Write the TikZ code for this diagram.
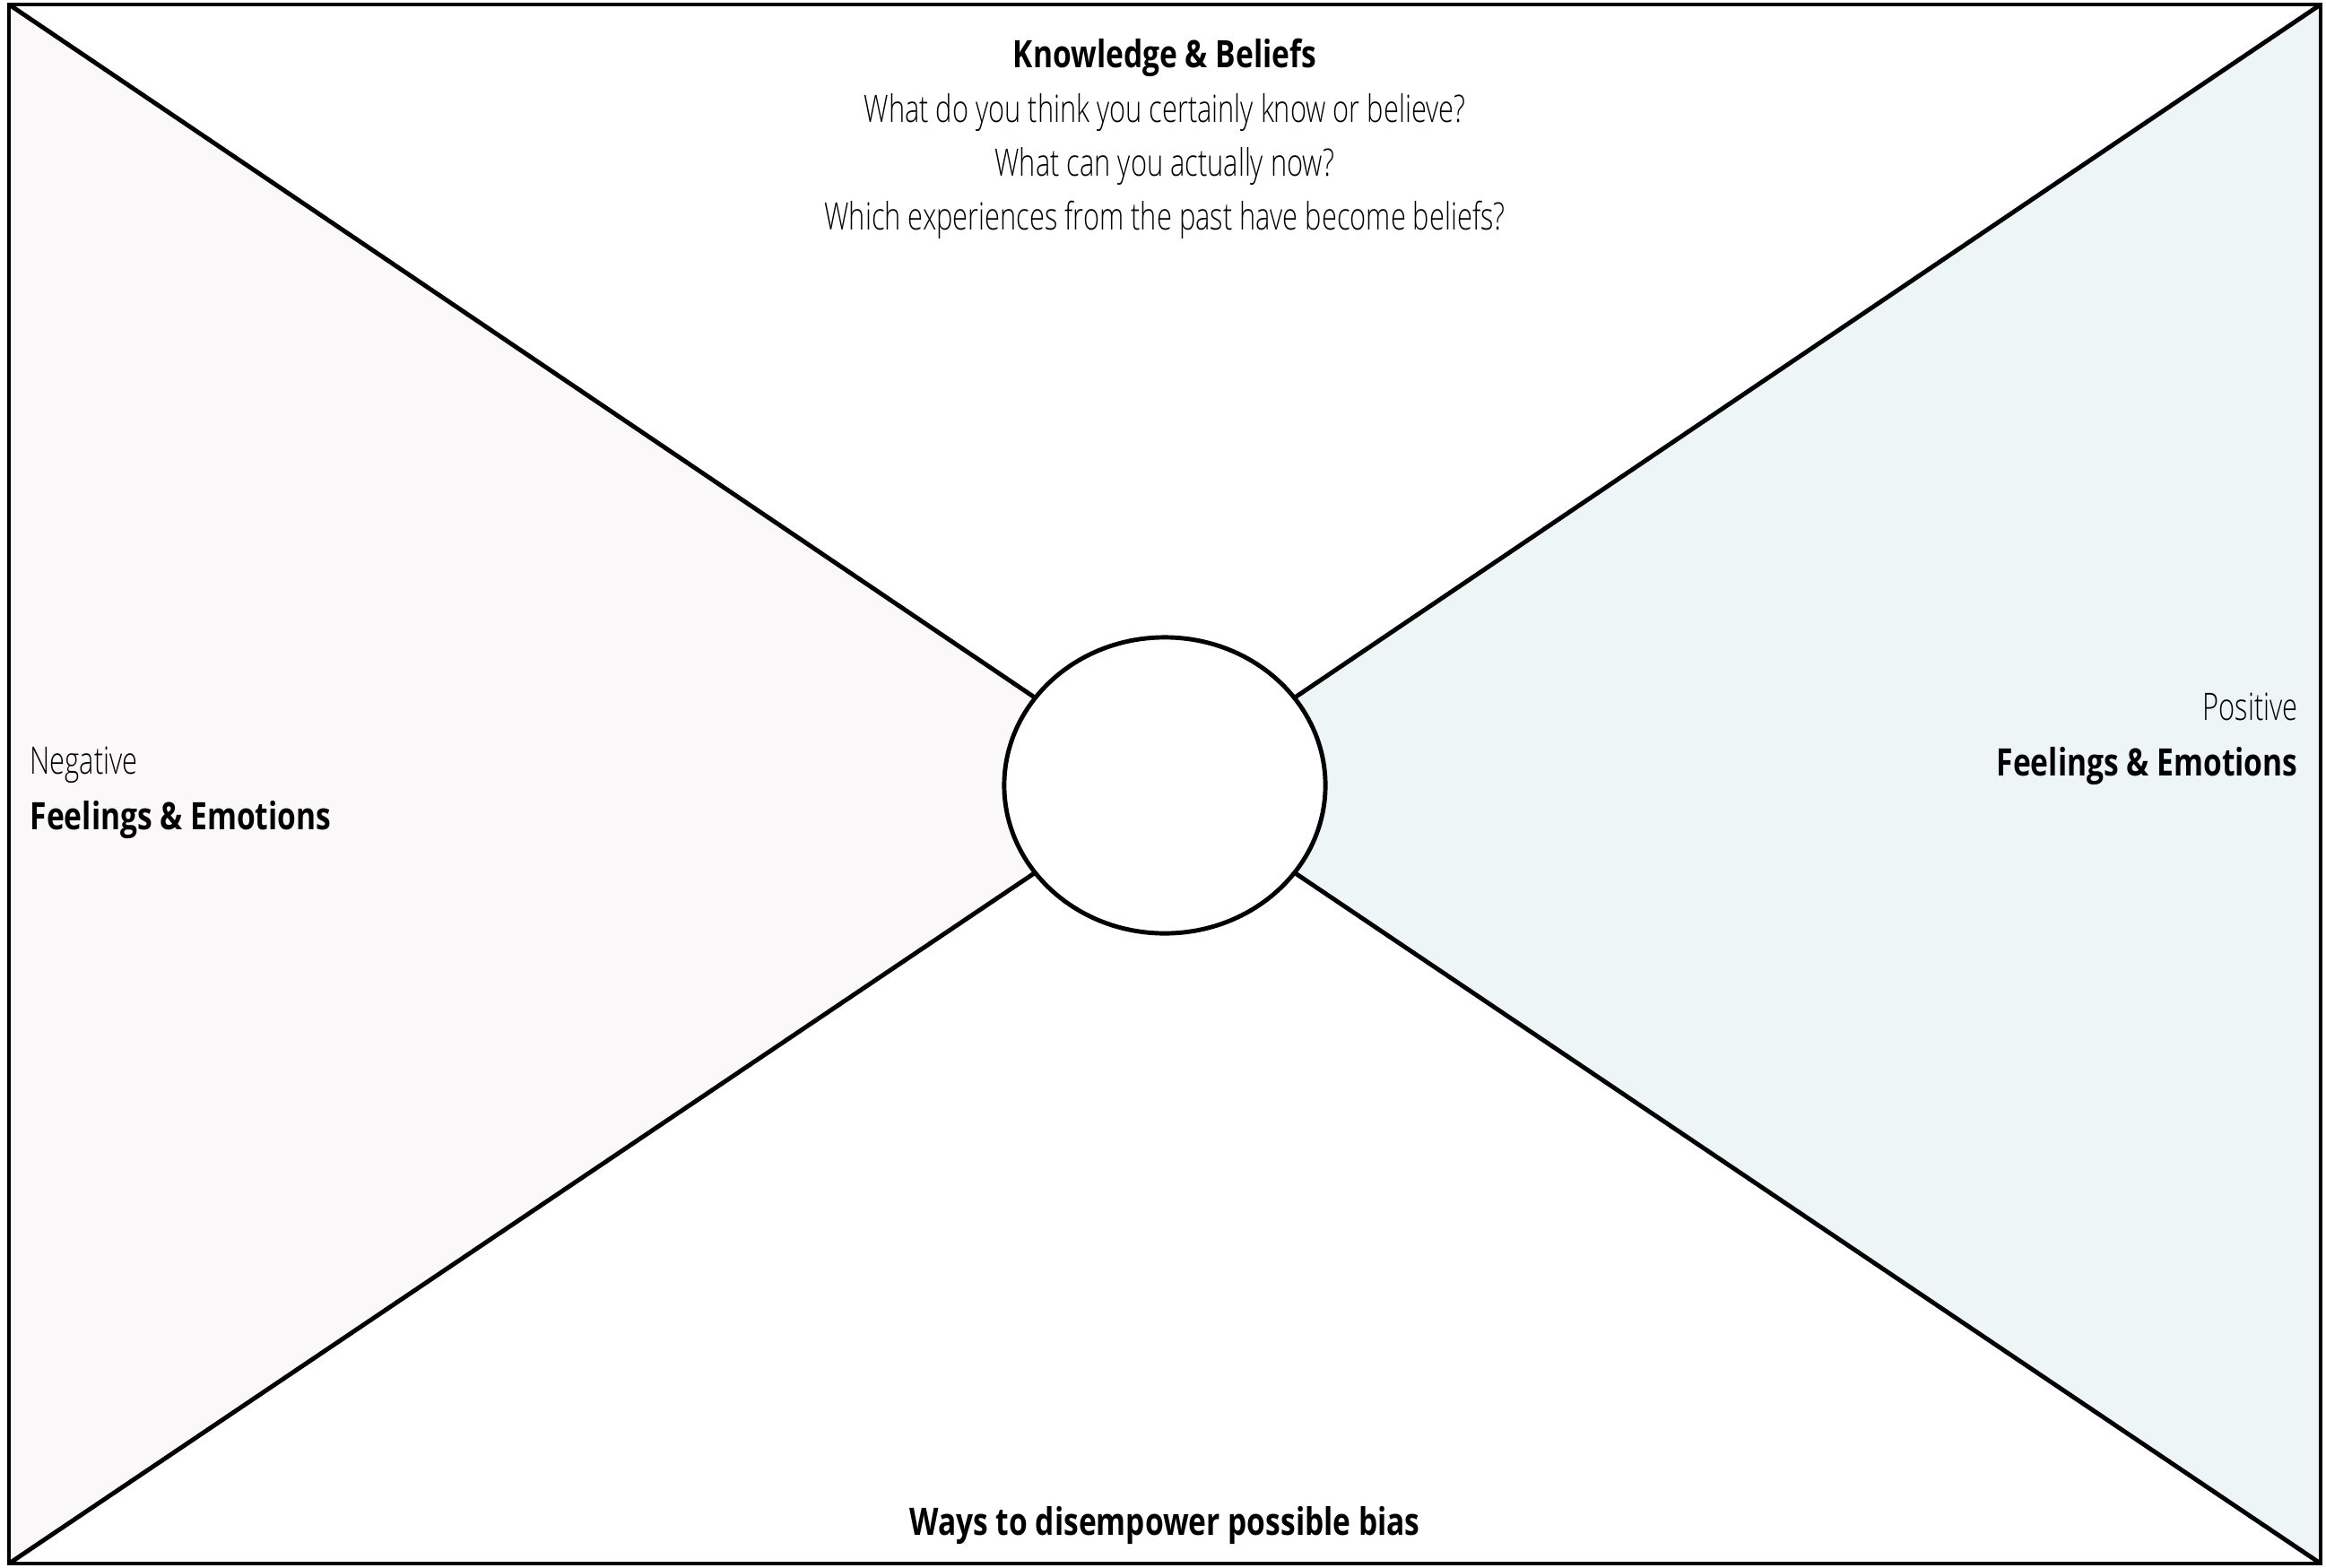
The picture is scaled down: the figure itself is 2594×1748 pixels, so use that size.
\documentclass[tikz,border=0pt]{standalone}
\usepackage{fontspec}
\usetikzlibrary{shapes.geometric}
\newfontfamily\lightf{Open Sans Light}[FakeStretch=0.73]
\newfontfamily\boldf{Open Sans}[FakeStretch=0.795,UprightFont=* Bold]
\definecolor{negfill}{HTML}{FAF8F9}
\definecolor{posfill}{HTML}{EEF5F7}
\begin{document}
\begin{tikzpicture}[x=0.01cm,y=-0.01cm,
  edge/.style={line width=1.4pt,black},
  lighttext/.style={font=\lightf\fontsize{12}{14}\selectfont,inner sep=0pt,anchor=base},
  boldtext/.style={font=\boldf\fontsize{12}{14}\selectfont,inner sep=0pt,anchor=base}]
\useasboundingbox (0,0) rectangle (2594,1748);
\coordinate (tl) at (10,5);
\coordinate (tr) at (2588,5);
\coordinate (bl) at (10,1744);
\coordinate (br) at (2588,1744);
\coordinate (ctr) at (1299,876);
\fill[negfill] (tl) -- (ctr) -- (bl) -- cycle;
\fill[posfill] (tr) -- (ctr) -- (br) -- cycle;
\node[ellipse,draw,edge,fill=white,minimum width=3.58cm,minimum height=3.30cm,inner sep=0pt,outer sep=0pt] (c) at (ctr) {};
\draw[edge] (tl) -- (c);
\draw[edge] (tr) -- (c);
\draw[edge] (bl) -- (c);
\draw[edge] (br) -- (c);
\draw[edge] (tl) rectangle (br);
\node[boldtext] (kb) at (1299,75) {Knowledge \& Beliefs};
\node[lighttext] (q1) at (1299,136) {What do you think you certainly know or believe?};
\node[lighttext] (q2) at (1299,196) {What can you actually now?};
\node[lighttext] (q3) at (1299,256) {Which experiences from the past have become beliefs?};
\node[lighttext,anchor=base west] (neg) at (33,863) {Negative};
\node[boldtext,anchor=base west] (negf) at (33,925) {Feelings \& Emotions};
\node[lighttext,anchor=base east] (pos) at (2563,803) {Positive};
\node[boldtext,anchor=base east] (posf) at (2563,865) {Feelings \& Emotions};
\node[boldtext] (ways) at (1299,1712) {Ways to disempower possible bias};
\end{tikzpicture}
\end{document}
